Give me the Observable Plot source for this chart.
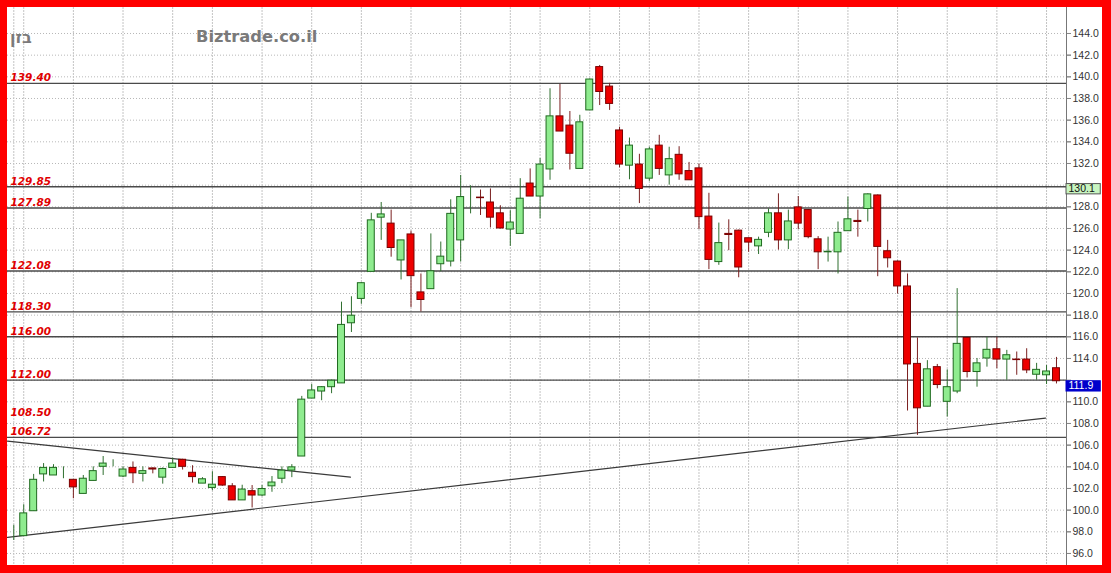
<!DOCTYPE html>
<html>
<head>
<meta charset="utf-8">
<script src="https://cdn.jsdelivr.net/npm/d3@7"></script>
<script src="https://cdn.jsdelivr.net/npm/@observablehq/plot@0.6"></script>
<style>
  html, body { margin: 0; padding: 0; background: #fff; }
  #wrap { position: relative; width: 1111px; height: 573px; overflow: hidden; }
  #border { position: absolute; left: 0; top: 0; width: 1111px; height: 573px; box-sizing: border-box;
            border-style: solid; border-color: #ff0000; border-width: 7px 9px 8px 7px; pointer-events: none; }
  .wm { position: absolute; font-family: "DejaVu Sans", sans-serif; font-weight: bold; color: #7a7a7a; font-size: 16px; }
  #tiny { position: absolute; left: 22px; top: -3px; font-family: "DejaVu Sans", sans-serif; font-size: 11px; font-weight: bold; color: #3a1f9c; }
</style>
</head>
<body>
<div id="wrap">
  <div id="chart"></div>
  <div class="wm" style="left:196px; top:27px; font-size:16.3px;">Biztrade.co.il</div>
  <div class="wm" style="left:10px; top:28px;" dir="rtl">בזן</div>
  <div id="tiny">11.11.22</div>
  <div id="border"></div>
</div>
<script>
// ---- data ----
const open  = [97.5,97.6,99.9,103.3,103.2,103.5,102.8,101.5,102.7,104.0,
               104.45,103.1,103.9,103.35,103.85,103.0,103.9,104.65,103.45,102.45,
               102.05,103.05,102.2,100.9,101.75,101.35,102.2,102.9,103.65,104.95,
               110.3,110.95,111.35,111.7,117.25,119.5,122.0,127.0,126.45,123.05,
               125.45,120.1,120.4,122.7,122.95,124.9,129.05,128.85,128.4,127.4,
               125.9,125.5,130.15,128.95,131.45,136.35,135.5,131.5,136.9,140.9,
               139.1,135.05,131.8,131.9,130.6,133.65,130.9,132.8,131.3,131.55,
               127.1,122.9,125.5,125.8,125.1,124.35,125.6,127.4,124.9,127.95,
               127.7,125.0,123.8,123.8,125.75,126.7,127.8,129.05,123.9,122.95,
               120.65,113.5,109.55,113.2,110.0,110.95,115.9,112.75,114.0,114.85,
               113.9,113.9,113.9,112.5,112.45,113.1];
const high  = [98.6,100.5,103.3,104.3,104.2,104.0,102.8,103.2,104.0,104.95,
               104.65,104.0,104.45,104.0,103.9,103.9,104.8,104.7,104.1,103.0,
               103.55,103.1,102.45,102.3,102.27,102.27,103.1,104.0,104.2,110.5,
               111.6,111.4,112.0,119.2,119.7,121.0,127.4,128.4,127.7,124.9,
               125.75,121.8,125.5,124.75,128.65,130.9,129.95,129.55,129.65,128.1,
               127.65,130.6,131.5,132.45,138.9,139.3,136.8,136.45,139.8,141.05,
               139.4,135.35,134.35,132.85,133.5,134.6,133.5,133.55,132.1,131.95,
               129.25,126.5,126.8,125.85,125.1,125.2,127.8,129.2,127.7,128.95,
               127.75,125.25,125.2,126.6,128.9,127.7,129.2,129.1,124.9,123.0,
               121.8,115.9,113.8,113.45,112.95,120.45,115.95,114.0,115.95,115.95,
               114.75,114.6,114.9,113.55,113.35,114.1];
const low   = [97.2,97.6,99.9,102.6,103.2,102.9,101.05,101.5,102.7,103.2,
               104.0,103.0,102.45,102.6,103.35,102.4,103.9,103.7,102.5,102.45,
               101.8,102.2,100.9,100.9,100.2,101.25,101.65,102.45,103.0,104.95,
               110.3,110.1,110.75,111.7,116.4,119.0,122.0,124.9,123.35,121.25,
               118.7,118.3,120.4,122.0,122.45,122.9,127.35,127.2,126.05,125.95,
               124.35,125.5,128.95,126.9,130.45,134.95,131.4,131.5,136.9,137.35,
               136.9,131.6,130.5,128.3,130.35,130.9,130.0,130.45,130.45,125.9,
               122.2,122.6,123.95,121.45,123.8,123.6,125.15,124.0,124.05,125.9,
               125.05,122.2,122.9,121.8,125.75,125.2,126.6,121.55,122.35,119.95,
               109.15,106.9,109.55,111.2,108.6,110.75,112.2,111.35,113.2,113.05,
               112.0,112.45,112.6,112.0,111.6,111.65];
const close = [97.5,99.7,102.8,103.9,103.9,103.5,102.1,102.9,103.6,104.3,
               104.45,103.75,103.4,103.6,103.75,103.8,104.3,104.0,103.05,102.85,
               102.35,102.27,100.9,101.9,101.35,101.95,102.55,103.65,103.95,110.2,
               111.05,111.35,111.95,117.1,117.95,120.95,126.75,127.3,124.2,124.9,
               121.6,119.4,122.05,123.4,127.35,128.9,129.05,128.8,127.0,126.0,
               126.55,128.75,128.95,131.9,136.35,134.95,132.9,135.8,139.75,138.6,
               137.5,131.9,133.65,129.65,133.3,131.5,132.4,131.0,130.45,127.05,
               123.1,124.65,125.4,122.4,124.7,124.95,127.4,124.9,126.65,126.45,
               125.2,123.8,123.85,125.6,126.85,126.6,129.15,124.3,123.25,120.65,
               113.45,109.4,113.0,111.55,111.35,115.35,112.75,113.55,114.8,113.9,
               114.3,113.85,112.9,112.95,112.8,111.9];

// support / resistance levels and their labels
const levels      = [139.40, 129.85, 127.89, 122.08, 118.30, 116.00, 112.00, 106.72];
const levelLabels = [139.40, 129.85, 127.89, 122.08, 118.30, 116.00, 112.00, 108.50, 106.72];

// trend lines (bar index, value)
const trendUpperIdx = [-0.634, 33.9],  trendUpperVal = [106.37, 103.04];
const trendLowerIdx = [-0.634, 103.9], trendLowerVal = [97.49, 108.5];

// price tags on the right axis
const tagValues = [130.1, 111.9];
const tagFills  = ["#c8f5c0", "#0000cc"];
const tagTexts  = ["#111", "#ffffff"];

// axis ticks / grid
const yTicks = d3.range(96, 145, 2);
const xGrid  = [0, 1, 6, 11, 16, 20, 25, 30, 35, 40, 45, 50, 53, 58, 61, 64, 69, 74, 79, 84, 89, 94, 99, 104];

// ---- build ----
const candles = open.map((o, i) => ({i, open: o, high: high[i], low: low[i], close: close[i], up: close[i] >= o}));
const trends = [
  ...trendUpperIdx.map((x, k) => ({x, y: trendUpperVal[k], z: "u"})),
  ...trendLowerIdx.map((x, k) => ({x, y: trendLowerVal[k], z: "l"}))
];
const xDom = [-0.634, 106.01];
const yDom = [94.89, 146.4];
const tags = tagValues.map((v, k) => ({v, fill: tagFills[k], color: tagTexts[k]}));
// tick labels hidden behind the price tags
const labelTicks = yTicks.filter(t => !tagValues.some(v => v - t > -0.2 && v - t < 1.2));

const chart = Plot.plot({
  width: 1111, height: 573,
  marginTop: 7, marginLeft: 7, marginRight: 45, marginBottom: 8,
  x: {domain: xDom, axis: null},
  y: {domain: yDom, axis: null},
  style: {background: "#ffffff", fontFamily: "'Liberation Sans', Arial, sans-serif", fontSize: "10.5px", overflow: "visible"},
  marks: [
    Plot.gridY(yTicks, {stroke: "#b8b8b8", strokeOpacity: 1, strokeDasharray: "1,2"}),
    Plot.gridX(xGrid, {stroke: "#c4c4c4", strokeOpacity: 1, strokeDasharray: "2,1"}),
    Plot.ruleY(levels, {stroke: "#4a4a4a", strokeWidth: 1.4}),
    Plot.line(trends, {x: "x", y: "y", z: "z", stroke: "#3a3a3a", strokeWidth: 1.2}),
    Plot.ruleX(candles, {x: "i", y1: "low", y2: "high", stroke: d => d.up ? "#2f6f2f" : "#7a2020", strokeWidth: 1}),
    Plot.rect(candles, {
      x1: d => d.i - 0.35, x2: d => d.i + 0.35, y1: "open", y2: "close",
      fill: d => d.up ? "#8fec8f" : "#ee0000",
      stroke: d => d.up ? "#1f6a1f" : "#7a0000", strokeWidth: 1
    }),
    Plot.text(levelLabels, {
      y: d => d, frameAnchor: "left", text: d => d.toFixed(2), dx: 3, dy: -2,
      lineAnchor: "bottom", textAnchor: "start",
      fill: "#e00000", fontStyle: "italic", fontWeight: "bold",
      fontFamily: "'DejaVu Sans', Verdana, sans-serif", fontSize: 10.5
    }),
    Plot.ruleX([xDom[1]], {stroke: "#777", strokeWidth: 1}),
    Plot.ruleY([yDom[0]], {stroke: "#555", strokeWidth: 1.2}),
    Plot.axisY(yTicks, {anchor: "right", tickSize: 4, text: null, stroke: "#888", label: null}),
    Plot.axisY(labelTicks, {anchor: "right", tickFormat: d => d.toFixed(1), tickSize: 4, tickPadding: 2,
      fill: "#333", stroke: "#888", label: null, fontSize: 10.5}),
    Plot.rect(tags, {x1: xDom[1], x2: xDom[1] + 3.45, y1: "v", y2: d => d.v - 0.95,
      fill: "fill", stroke: d => d.fill === "#0000cc" ? "#0000cc" : "#555", strokeWidth: 1, clip: false}),
    Plot.text(tags, {x: xDom[1], y: "v", text: d => d.v.toFixed(1), fill: "color", dx: 2, dy: 0.5,
      textAnchor: "start", lineAnchor: "top", fontSize: 10.5, clip: false})
  ]
});
document.getElementById("chart").appendChild(chart);
</script>
</body>
</html>
